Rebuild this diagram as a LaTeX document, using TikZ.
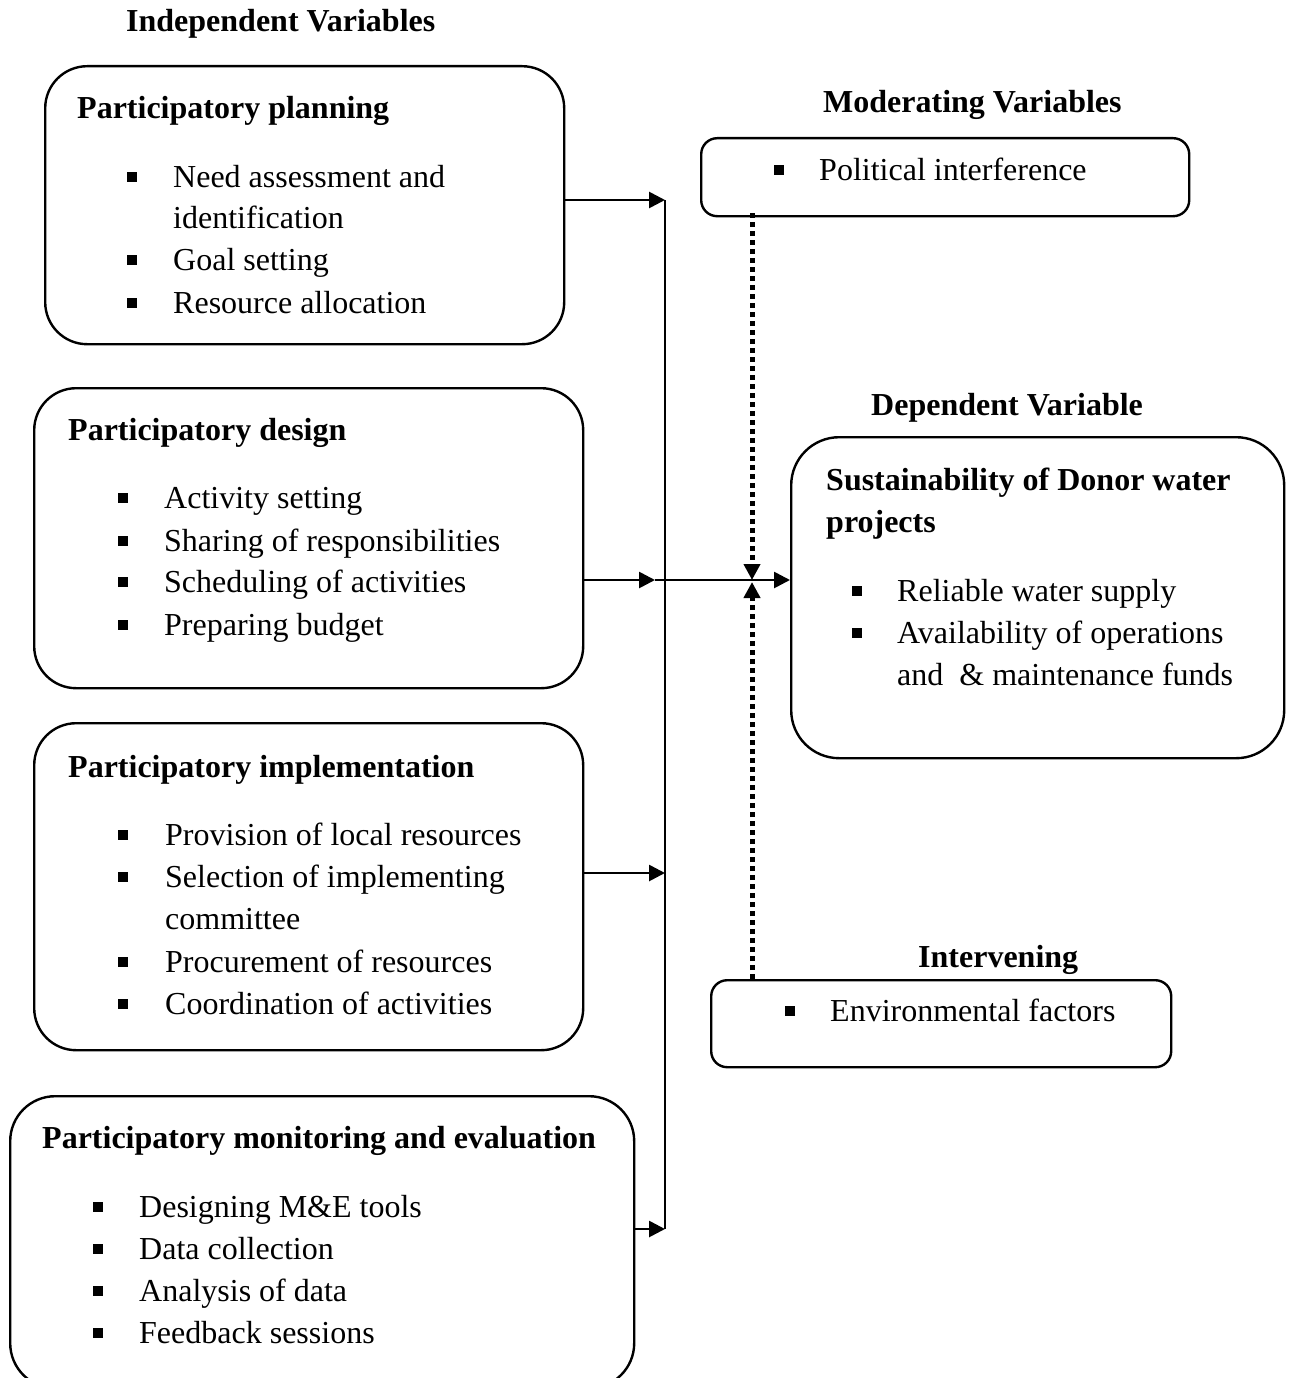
\documentclass[tikz,border=0pt]{standalone}
\usepackage{fontspec}
\setmainfont{Liberation Serif}
\usetikzlibrary{arrows.meta,calc}
\tikzset{
  box/.style={draw, line width=2.4pt, rectangle, inner sep=0pt, anchor=north west},
  txt/.style={anchor=base west, inner sep=0pt, font=\fontsize{32}{42}\selectfont},
  ttl/.style={anchor=base west, inner sep=0pt, font=\fontsize{32}{42}\selectfont\bfseries},
  bul/.style={fill=black, rectangle, minimum size=10pt, inner sep=0pt},
  conn/.style={line width=2.7pt},
  arr/.style={line width=2.7pt, -{Triangle[length=16pt,width=16pt]}},
  dotarr/.style={line width=5pt, dash pattern=on 5pt off 4pt, -{Triangle[length=16pt,width=16pt]}}
}
\newcommand{\bitem}[5]{%
  \node[bul] (#1b) at (#2,#4-10) {};
  \node[txt] (#1) at (#3,#4) {#5};}
\begin{document}
\begin{tikzpicture}[x=1pt,y=-1pt]
\useasboundingbox (0,0) rectangle (1294,1378);
% boxes
\node[box, rounded corners=42pt, minimum width=519pt, minimum height=278pt] (b1) at (44,65) {};
\node[box, rounded corners=42pt, minimum width=549pt, minimum height=300pt] (b2) at (33,387) {};
\node[box, rounded corners=42pt, minimum width=549pt, minimum height=327pt] (b3) at (33,722) {};
\node[box, rounded corners=45pt, minimum width=624pt, minimum height=292pt] (b4) at (9,1095) {};
\node[box, rounded corners=16pt, minimum width=488pt, minimum height=78pt] (mv) at (700,137) {};
\node[box, rounded corners=48pt, minimum width=493pt, minimum height=321pt] (dv) at (790,436) {};
\node[box, rounded corners=16pt, minimum width=460pt, minimum height=87pt] (iv) at (710,979) {};
% headings
\node[ttl] (hind) at (126,32) {Independent Variables};
\node[ttl] (hmod) at (823,113) {Moderating Variables};
\node[ttl] (hdep) at (871,415) {Dependent Variable};
\node[ttl] (hint) at (918,967) {Intervening};
% box 1
\node[ttl] (t1) at (77,118) {Participatory planning};
\bitem{p1}{132}{173}{187}{Need assessment and}
\node[txt] (p1c) at (173,228) {identification};
\bitem{p2}{132}{173}{270}{Goal setting}
\bitem{p3}{132}{173}{313}{Resource allocation}
% box 2
\node[ttl] (t2) at (68,440) {Participatory design};
\bitem{d1}{123}{164}{508}{Activity setting}
\bitem{d2}{123}{164}{551}{Sharing of responsibilities}
\bitem{d3}{123}{164}{592}{Scheduling of activities}
\bitem{d4}{123}{164}{635}{Preparing budget}
% box 3
\node[ttl] (t3) at (68,777) {Participatory implementation};
\bitem{i1}{123}{165}{845}{Provision of local resources}
\bitem{i2}{123}{165}{887}{Selection of implementing}
\node[txt] (i2c) at (165,929) {committee};
\bitem{i3}{123}{165}{972}{Procurement of resources}
\bitem{i4}{123}{165}{1014}{Coordination of activities}
% box 4
\node[ttl] (t4) at (42,1148) {Participatory monitoring and evaluation};
\bitem{m1}{98}{139}{1217}{Designing M\&E tools}
\bitem{m2}{98}{139}{1259}{Data collection}
\bitem{m3}{98}{139}{1301}{Analysis of data}
\bitem{m4}{98}{139}{1343}{Feedback sessions}
% moderating
\bitem{mo1}{779}{819}{180}{Political interference}
% dependent
\node[ttl] (t5) at (826,490) {Sustainability of Donor water};
\node[ttl] (t5c) at (826,532) {projects};
\bitem{s1}{857}{897}{601}{Reliable water supply}
\bitem{s2}{857}{897}{643}{Availability of operations}
\node[txt] (s2c) at (897,685) {and\ \ \& maintenance funds};
% intervening
\bitem{e1}{790}{830}{1021}{Environmental factors}
% connectors
\coordinate (j1) at (665,200);
\coordinate (j2) at (665,580);
\coordinate (j2a) at (655,580);
\coordinate (j3) at (665,873);
\coordinate (j4) at (665,1229);
\coordinate (x) at (752,580);
\coordinate (xb) at (752,582);
\draw[conn] (j1) -- (j4);
\draw[arr] (b1.east |- j1) -- (j1);
\draw[arr] (b2.east |- j2) -- (j2a);
\draw[arr] (j2a) -- (dv.west |- j2);
\draw[arr] (b3.east |- j3) -- (j3);
\draw[arr] (b4.east |- j4) -- (j4);
\draw[dotarr] ([yshift=4pt]mv.south -| x) -- (x);
\draw[dotarr] (iv.north -| xb) -- (xb);
\end{tikzpicture}
\end{document}
